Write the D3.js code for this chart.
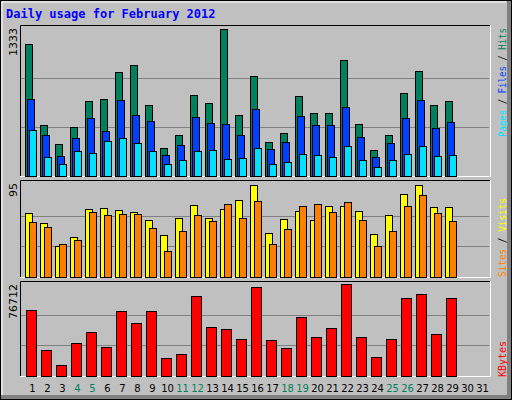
<!DOCTYPE html>
<html>
<head>
<script src="https://d3js.org/d3.v7.min.js"></script>
<style>body{margin:0;background:#fff}</style>
</head>
<body>
<div id="chart"></div>
<script>
var days = d3.range(1, 32);
var weekends = [4, 5, 11, 12, 18, 19, 25, 26];
var hits = [1197,462,290,444,680,698,943,1006,644,254,372,734,662,1333,553,907,308,390,725,571,571,1052,472,236,372,753,952,644,680];
var files = [698,372,181,345,526,408,689,553,499,190,281,535,480,472,372,608,245,308,544,462,462,626,354,172,299,526,689,435,490];
var pages = [417,172,109,227,209,317,345,299,227,109,145,227,236,154,163,254,109,127,200,190,172,272,145,82,145,200,272,181,190];
var visits = [66,56,32,41,70,71,69,67,59,43,61,74,61,70,80,95,45,60,68,59,73,73,68,44,64,86,95,72,72];
var sites = [57,52,34,38,67,64,65,65,51,27,48,64,58,75,61,78,34,50,73,75,67,77,59,32,48,73,85,66,58];
var kbytes = [54873,21278,9519,27157,36397,23797,54033,43955,54033,15398,18758,66633,40596,38916,30517,74192,29677,22957,48995,32197,39756,76712,32197,16238,30517,64953,68313,34716,64953];

var W = 512, H = 400;
var svg = d3.select("#chart").append("svg").attr("width", W).attr("height", H)
    .style("font-family", "DejaVu Sans Mono, monospace");

// outer frame
svg.append("rect").attr("x", 0).attr("y", 0).attr("width", W).attr("height", H).attr("fill", "#000");
svg.append("rect").attr("x", 1).attr("y", 1).attr("width", W - 2).attr("height", H - 2).attr("fill", "#808080");
svg.append("rect").attr("x", 1).attr("y", 1).attr("width", W - 6).attr("height", H - 6).attr("fill", "#c0c0c0");
svg.append("path").attr("d", "M2,395V2H506").attr("stroke", "#fff").attr("fill", "none");

svg.append("text").attr("x", 6).attr("y", 18).attr("fill", "#0000ff")
    .style("font-size", "12px").style("font-weight", "bold").text("Daily usage for February 2012");

var x = d3.scaleBand().domain(days).range([24, 489]);

function panel(top, bottom, maxTop, maxV, label) {
    var y = d3.scaleLinear().domain([0, maxV]).range([bottom, maxTop]);
    var g = svg.append("g");
    [1 / 3, 2 / 3].forEach(function (f) {
        var gy = Math.round(bottom - (bottom - maxTop) * f) + 0.5;
        g.append("line").attr("x1", 21).attr("x2", 489).attr("y1", gy).attr("y2", gy)
            .attr("stroke", "#808080");
    });
    g.append("path").attr("d", "M20.5," + bottom + "V" + (top + 0.5) + "H490")
        .attr("stroke", "#000").attr("fill", "none");
    g.append("path").attr("d", "M20," + (bottom + 0.5) + "H490.5V" + top)
        .attr("stroke", "#fff").attr("fill", "none");
    svg.append("text").attr("transform", "translate(17," + (top + 3) + ") rotate(-90)")
        .attr("text-anchor", "end").attr("fill", "#000")
        .style("font-family", "DejaVu Sans, sans-serif").style("font-size", "11px").text(label);
    return y;
}

function bars(data, y, off, w, color) {
    svg.append("g").selectAll("rect").data(data).enter().append("rect")
        .attr("x", function (d, i) { return x(days[i]) + off + 0.5; })
        .attr("y", function (d) { return Math.round(y(d)) + 0.5; })
        .attr("width", w)
        .attr("height", function (d) { return Math.max(0, Math.round(y(0)) - Math.round(y(d))); })
        .attr("fill", color).attr("stroke", "#000");
}

var y1 = panel(25, 176, 29, 1333, "1333");
bars(hits, y1, 1, 7, "#00805c");
bars(files, y1, 3, 7, "#0040ff");
bars(pages, y1, 5, 7, "#00e0ff");

var y2 = panel(180, 277, 185, 95, "95");
bars(visits, y2, 1, 7, "#ffff00");
bars(sites, y2, 5, 7, "#ff8000");

var y3 = panel(281, 376, 284, 76712, "76712");
bars(kbytes, y3, 2, 10, "#ff0000");

// day labels
svg.append("g").selectAll("text").data(days).enter().append("text")
    .attr("x", function (d) { return x(d) + x.bandwidth() / 2 + 1; })
    .attr("y", 392).attr("text-anchor", "middle")
    .style("font-family", "DejaVu Sans, sans-serif").style("font-size", "10px")
    .attr("fill", function (d) { return weekends.indexOf(d) >= 0 ? "#00805c" : "#000"; })
    .text(function (d) { return d; });

// right legends, reading bottom to top
function legend(yBottom, len, parts) {
    var t = svg.append("text").attr("transform", "translate(506," + yBottom + ") rotate(-90)")
        .attr("textLength", len).attr("lengthAdjust", "spacingAndGlyphs")
        .style("font-size", "10px");
    parts.forEach(function (p) {
        t.append("tspan").attr("fill", p[1]).text(p[0]);
    });
}
legend(137, 109, [["Pages", "#00e0ff"], [" / ", "#000"], ["Files", "#0040ff"], [" / ", "#000"], ["Hits", "#00805c"]]);
legend(277, 79, [["Sites", "#ff8000"], [" / ", "#000"], ["Visits", "#ffff00"]]);
legend(377, 36, [["KBytes", "#ff0000"]]);
</script>
</body>
</html>
